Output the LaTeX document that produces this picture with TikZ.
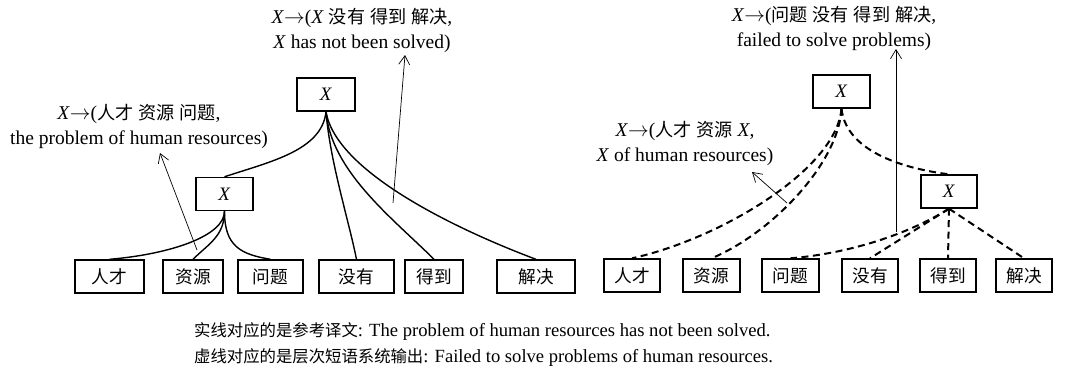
\documentclass[tikz,border=0pt]{standalone}
\usepackage{fontspec}
\setmainfont{Liberation Serif}
\newfontfamily\cjk[Scale=0.93]{Noto Sans CJK SC}
\newfontfamily\cjkb[Scale=0.88]{Noto Sans CJK SC}
\usetikzlibrary{arrows.meta}
\begin{document}
\begin{tikzpicture}[x=1pt,y=-1pt,
 box/.style={draw, line width=1.4pt, minimum height=33pt, inner sep=0pt, font=\fontsize{19}{22}\selectfont},
 lbl/.style={align=center, font=\fontsize{19.5}{25}\selectfont, inner sep=0pt},
 solidedge/.style={line width=1.4pt},
 dashedge/.style={line width=2pt, dash pattern=on 7pt off 4.5pt},
 ptr/.style={line width=0.7pt, -{Straight Barb[length=9pt,width=11pt]}},
]
\useasboundingbox (0,0) rectangle (1071,372);
% left tree
\node[box, minimum width=58pt] (LT) at (326,94.5) {\textit{X}};
\node[box, minimum width=57pt] (LX) at (224.5,194) {\textit{X}};
\node[box, minimum width=69pt] (l1) at (109.5,276.5) {\cjk 人才};
\node[box, minimum width=60pt] (l2) at (193,276.5) {\cjk 资源};
\node[box, minimum width=65pt] (l3) at (270.5,276.5) {\cjk 问题};
\node[box, minimum width=75pt] (l4) at (356.5,276.5) {\cjk 没有};
\node[box, minimum width=58pt] (l5) at (434,276.5) {\cjk 得到};
\node[box, minimum width=78pt] (l6) at (536,276.5) {\cjk 解决};
% right tree
\node[box, minimum width=57pt] (RT) at (841.5,91.5) {\textit{X}};
\node[box, minimum width=56pt] (RX) at (949,191.5) {\textit{X}};
\node[box, minimum width=56pt] (r1) at (632,275.5) {\cjk 人才};
\node[box, minimum width=57pt] (r2) at (711.5,275.5) {\cjk 资源};
\node[box, minimum width=57pt] (r3) at (790.5,275.5) {\cjk 问题};
\node[box, minimum width=56pt] (r4) at (870,275.5) {\cjk 没有};
\node[box, minimum width=56pt] (r5) at (948,275.5) {\cjk 得到};
\node[box, minimum width=56pt] (r6) at (1024,275.5) {\cjk 解决};
% labels
\node[lbl] (LA) at (362,30) {\textit{X}$\rightarrow$(\textit{X} {\cjk 没有} {\cjk 得到} {\cjk 解决},\\ \textit{X} has not been solved)};
\node[lbl] (LB) at (139,126.5) {\textit{X}$\rightarrow$({\cjk 人才} {\cjk 资源} {\cjk 问题},\\ the problem of human resources)};
\node[lbl] (RA) at (834,28.5) {\textit{X}$\rightarrow$({\cjk 问题} {\cjk 没有} {\cjk 得到} {\cjk 解决},\\ failed to solve problems)};
\node[lbl] (RB) at (685,143.5) {\textit{X}$\rightarrow$({\cjk 人才} {\cjk 资源} \textit{X},\\ \textit{X} of human resources)};
\node[anchor=west, align=left, inner sep=0pt, font=\fontsize{18.6}{26}\selectfont] (cap) at (194,345)
 {{\cjkb 实线对应的是参考译文}: The problem of human resources has not been solved.\\
  {\cjkb 虚线对应的是层次短语系统输出}: Failed to solve problems of human resources.};
% left edges
\draw[solidedge] (LT.south) .. controls +(-4,39) and +(45,-15) .. (LX.north);
\draw[solidedge] (LT.south) .. controls +(4,50) and +(-8,-40) .. (l4.north);
\draw[solidedge] (LT.south) .. controls +(5,60) and +(-40,-40) .. (l5.north);
\draw[solidedge] (LT.south) .. controls +(10,60) and +(-80,-30) .. (l6.north);
\draw[solidedge] (LX.south) .. controls +(0,25) and +(60,-5) .. (l1.north);
\draw[solidedge] (LX.south) .. controls +(0,25) and +(15,-15) .. (l2.north);
\draw[solidedge] (LX.south) .. controls +(0,35) and +(-30,-5) .. (l3.north);
% right edges
\draw[dashedge] (RT.south) .. controls +(-5,60) and +(90,-20) .. (r1.north);
\draw[dashedge] (RT.south) .. controls +(-3,55) and +(60,-25) .. (r2.north);
\draw[dashedge] (RT.south) .. controls +(5,45) and +(-40,-5) .. (RX.north);
\draw[dashedge] (RX.south) .. controls +(-40,25) and +(60,-5) .. (r3.north);
\draw[dashedge] (RX.south) -- (r4.north);
\draw[dashedge] (RX.south) -- (r5.north);
\draw[dashedge] (RX.south) -- (r6.north);
% pointer arrows
\coordinate (a1s) at (393,203); \coordinate (a1e) at (405,55);
\coordinate (a2s) at (197,250); \coordinate (a2e) at (160,153);
\coordinate (a3s) at (896,232); \coordinate (a3e) at (896,49);
\coordinate (a4s) at (787,203); \coordinate (a4e) at (752,172);
\draw[ptr] (a1s) -- (a1e);
\draw[ptr] (a2s) -- (a2e);
\draw[ptr] (a3s) -- (a3e);
\draw[ptr] (a4s) -- (a4e);
\end{tikzpicture}
\end{document}
